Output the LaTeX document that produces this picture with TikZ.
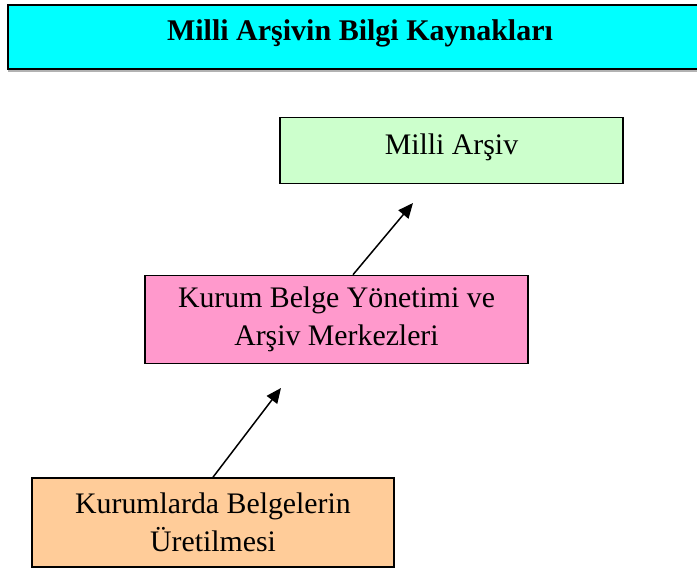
\documentclass[tikz,border=0pt]{standalone}
\usepackage{fontspec}
\setmainfont{Liberation Serif}
\usetikzlibrary{arrows.meta}
\definecolor{titlecyan}{HTML}{00FFFF}
\definecolor{boxgreen}{HTML}{CCFFCC}
\definecolor{boxpink}{HTML}{FF99CC}
\definecolor{boxorange}{HTML}{FFCC99}
\tikzset{
  px/.style={x=0.5pt,y=-0.5pt},
  boxnode/.style={draw=black,line width=0.8pt,rectangle,align=center,inner sep=0pt,
    font=\fontsize{14.9}{19}\selectfont},
  arr/.style={line width=0.75pt,-{Triangle[length=7.5pt,width=6.5pt]}},
}
\begin{document}
\begin{tikzpicture}[px]
\useasboundingbox (0,0) rectangle (697,569);
% title with shadow
\fill[gray!60] (8,8) rectangle (712,72);
\node[boxnode,fill=titlecyan,line width=1pt,minimum width=704pt/2,minimum height=64pt/2,
  font=\bfseries\fontsize{15}{18}\selectfont,text height=10pt,text depth=6.5pt]
  (title) at (360,37) {Milli Arşivin Bilgi Kaynakları};
\node[boxnode,fill=boxgreen,minimum width=343pt/2,minimum height=66pt/2,text height=10pt,text depth=6pt]
  (arsiv) at (451.5,150.5) {Milli Arşiv};
\node[boxnode,fill=boxpink,minimum width=383pt/2,minimum height=88pt/2]
  (kurum) at (336.5,319.5) {Kurum Belge Yönetimi ve\\Arşiv Merkezleri};
\node[boxnode,fill=boxorange,minimum width=362pt/2,minimum height=89pt/2]
  (uretim) at (213,522.5) {Kurumlarda Belgelerin\\Üretilmesi};
\coordinate (a1x) at (353,0);
\coordinate (a1e) at (413,203);
\coordinate (a2x) at (213,0);
\coordinate (a2e) at (281,388);
\draw[arr] (a1x |- kurum.north) -- (a1e);
\draw[arr] (a2x |- uretim.north) -- (a2e);
\end{tikzpicture}
\end{document}
